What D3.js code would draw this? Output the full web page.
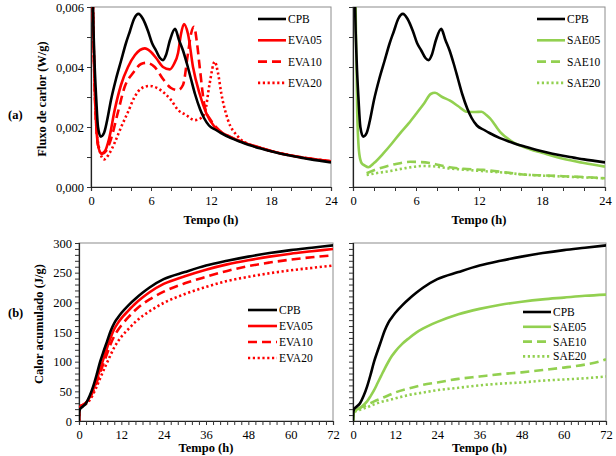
<!DOCTYPE html>
<html><head><meta charset="utf-8">
<script src="https://cdn.jsdelivr.net/npm/d3@7"></script>
<style>body{margin:0;background:#fff}svg{display:block;font-family:"Liberation Serif","Times New Roman",serif}</style>
</head><body><svg id="c" width="616" height="456"></svg>
<script>
// ---- data ----
const fluxTicksX = [0, 6, 12, 18, 24];
const fluxTicksY = [0, 0.002, 0.004, 0.006];
const heatTicksX = [0, 12, 24, 36, 48, 60, 72];
const heatTicksY = [0, 50, 100, 150, 200, 250, 300];
const leftLegend = ["CPB", "EVA05", "EVA10", "EVA20"];
const rightLegend = ["CPB", "SAE05", "SAE10", "SAE20"];

const cpbFlux = [[0.05,0.010],[0.2,0.006],[0.35,0.0042],[0.53,0.0029],[0.7,0.0020],[0.97,0.00168],[1.3,0.0018],[1.6,0.0022],[2.0,0.0029],[2.5,0.0036],[3.0,0.0042],[3.5,0.0048],[3.9,0.0052],[4.3,0.0056],[4.75,0.00577],[5.2,0.0056],[5.7,0.0052],[6.1,0.0048],[6.5,0.00455],[6.9,0.0043],[7.2,0.00423],[7.5,0.0044],[7.9,0.0049],[8.4,0.00527],[8.8,0.0049],[9.2,0.00455],[9.6,0.0041],[10.0,0.0036],[10.4,0.0031],[10.9,0.0026],[11.3,0.0023],[11.8,0.00205],[12.5,0.0019],[13.0,0.0018],[14,0.00163],[15,0.0015],[16,0.00138],[17,0.00128],[18,0.00119],[19,0.00111],[20,0.00104],[21,0.00098],[22,0.00092],[23,0.00087],[24,0.00082]];
const eva05Flux = [[0.05,0.010],[0.2,0.0058],[0.35,0.0035],[0.5,0.0022],[0.7,0.0014],[1.03,0.00112],[1.4,0.0012],[1.8,0.0016],[2.37,0.00257],[3.0,0.0034],[3.7,0.0040],[4.4,0.0044],[5.37,0.00462],[6.0,0.0045],[6.53,0.00429],[7.2,0.0040],[7.87,0.00392],[8.3,0.0041],[8.7,0.00446],[9.0,0.0051],[9.3,0.00543],[9.7,0.0051],[10.2,0.0040],[10.87,0.0031],[11.53,0.00246],[12.37,0.0020],[13,0.00183],[14,0.00165],[15,0.00152],[16,0.0014],[17,0.0013],[18,0.0012],[20,0.00105],[22,0.00094],[24,0.00086]];
const eva10Flux = [[0.05,0.010],[0.2,0.0058],[0.35,0.0035],[0.5,0.0022],[0.7,0.0014],[1.1,0.0011],[1.5,0.0012],[2.0,0.0016],[2.7,0.0025],[3.37,0.00334],[4.2,0.0038],[5.0,0.0041],[5.53,0.00414],[6.37,0.0040],[7.2,0.0036],[8.0,0.0033],[8.7,0.00323],[9.2,0.0034],[9.7,0.00446],[10.0,0.0051],[10.3,0.00534],[10.6,0.0048],[10.87,0.0040],[11.37,0.00268],[12.03,0.0022],[12.8,0.0019],[14,0.00166],[15,0.00152],[16,0.0014],[17,0.0013],[18,0.0012],[20,0.00105],[22,0.00094],[24,0.00086]];
const eva20Flux = [[0.05,0.010],[0.2,0.006],[0.35,0.0036],[0.5,0.0023],[0.8,0.0013],[1.3,0.00092],[1.8,0.0011],[2.4,0.0015],[3.03,0.00201],[3.7,0.0025],[4.37,0.00301],[5.1,0.0033],[5.87,0.00337],[6.6,0.0033],[7.37,0.00312],[8.0,0.0029],[8.7,0.00257],[9.5,0.0024],[10.37,0.00223],[11.0,0.0023],[11.37,0.00246],[11.87,0.00346],[12.37,0.00418],[12.7,0.0038],[13.03,0.00312],[13.7,0.00223],[14.7,0.00168],[16,0.0014],[17,0.0013],[18,0.0012],[20,0.00105],[22,0.00094],[24,0.00086]];
const sae05Flux = [[0.1,0.010],[0.25,0.006],[0.4,0.0025],[0.6,0.0011],[0.83,0.00079],[1.1,0.00072],[1.46,0.00066],[2.0,0.0008],[2.89,0.00112],[3.7,0.00145],[4.48,0.00179],[5.3,0.00212],[6.06,0.00246],[6.8,0.0028],[7.4,0.0031],[7.81,0.00314],[8.5,0.003],[9.24,0.00288],[10.0,0.0027],[10.83,0.00251],[11.6,0.0025],[12.25,0.00251],[12.7,0.0024],[13.05,0.00229],[14,0.00184],[15,0.00155],[16.86,0.00126],[18,0.00114],[20,0.00094],[22,0.0008],[24,0.00068]];
const sae10Flux = [[1.3,0.00046],[2.0,0.00056],[2.9,0.00066],[4.0,0.00076],[5.43,0.00084],[6.5,0.00083],[7.3,0.0008],[8.2,0.00073],[9.2,0.00066],[10.5,0.00061],[12.4,0.00057],[14,0.00051],[16.9,0.0004],[18,0.00039],[20,0.00036],[22,0.00033],[24,0.00029]];
const sae20Flux = [[1.3,0.0004],[2.2,0.00046],[3.5,0.00053],[5.0,0.00063],[6.7,0.0007],[7.6,0.00069],[9.2,0.00062],[10.5,0.00058],[12.4,0.00053],[14,0.00049],[16.9,0.0004],[18,0.00038],[20,0.00035],[22,0.00032],[24,0.00029]];

const cpbHeat = [[0,0],[0.1,15],[0.3,20],[1,24],[2,30],[3,42],[4,58],[5,78],[6,100],[7,118],[8,135],[9,152],[10,165],[11,174],[12,182],[14,195],[16,206],[18,216],[20,225],[24,239],[30,251],[36,262],[42,270],[48,277],[54,283],[60,288],[66,292],[72,296]];
const eva05Heat = [[0,0],[0.1,20],[0.5,25],[1,27],[2,31],[3,40],[4,53],[5,70],[6,88],[7,106],[8,124],[9,141],[10,155],[11,165],[12,173],[14,186],[16,198],[18,208],[20,217],[24,231],[30,244],[36,255],[42,264],[48,271],[54,277],[60,282],[66,286],[72,290]];
const eva10Heat = [[0,0],[0.1,20],[0.5,25],[1,27],[2,31],[3,38],[4,50],[5,65],[6,82],[7,98],[8,114],[9,130],[10,143],[11,153],[12,161],[14,175],[16,187],[18,197],[20,205],[24,218],[30,232],[36,243],[42,253],[48,261],[54,267],[60,272],[66,276],[72,279]];
const eva20Heat = [[0,0],[0.1,18],[0.5,23],[1,25],[2,29],[3,35],[4,45],[5,58],[6,72],[7,86],[8,99],[9,112],[10,124],[11,134],[12,142],[14,155],[16,167],[18,177],[20,185],[24,199],[30,214],[36,226],[42,236],[48,243],[54,249],[60,254],[66,258],[72,262]];
const sae05Heat = [[0,0],[0.3,15],[1,19],[2,22],[3,27],[4,33],[5,42],[6,52],[7,64],[8,76],[9,88],[10,99],[11,109],[12,117],[14,130],[16,140],[18,149],[20,156],[24,167],[30,180],[36,189],[42,196],[48,201],[54,205],[60,208],[66,211],[72,213]];
const sae10Heat = [[0,0],[0.3,16],[1,19],[2,22],[4,27],[6,33],[8,38],[10,43],[12,48],[16,55],[20,61],[24,65],[30,71],[36,75],[42,79],[48,82],[54,86],[60,90],[66,95],[70,100],[72,104]];
const sae20Heat = [[0,0],[0.3,15],[1,17],[2,19],[4,23],[6,28],[8,32],[10,35],[12,38],[16,44],[20,48],[24,52],[30,56],[36,60],[42,63],[48,65],[54,68],[60,70],[66,72],[72,75]];

// ---- styles ----
const BLACK = "#000", RED = "#ff0000", GREEN = "#92d050";
const FONT = "'Liberation Serif', 'Times New Roman', serif";
const styles = { solid: null, dashed: "9,5", dotted: "2.2,2.6" };

const svg = d3.select("#c").attr("font-family", FONT);

function panel(cfg) {
  const x = d3.scaleLinear().domain(cfg.xd).range(cfg.xr);
  const y = d3.scaleLinear().domain(cfg.yd).range(cfg.yr);
  const g = svg.append("g").attr("font-family", FONT);
  const id = "clip" + cfg.id;
  svg.append("defs").append("clipPath").attr("id", id).append("rect")
    .attr("x", cfg.xr[0]).attr("y", cfg.yr[1]).attr("width", cfg.xr[1]-cfg.xr[0]).attr("height", cfg.yr[0]-cfg.yr[1]);
  g.append("rect").attr("x", cfg.xr[0]).attr("y", cfg.yr[1]).attr("width", cfg.xr[1]-cfg.xr[0]).attr("height", cfg.yr[0]-cfg.yr[1])
    .attr("fill", "none").attr("stroke", "#8c8c8c").attr("stroke-width", 1);
  const xAxisMinor = d3.axisBottom(x).tickValues(d3.range(cfg.xd[0], cfg.xd[1]+1e-9, cfg.xMinor)).tickSize(4).tickFormat("");
  const yAxisMinor = d3.axisLeft(y).tickValues(d3.range(cfg.yd[0], cfg.yd[1]+1e-12, cfg.yMinor)).tickSize(4).tickFormat("");
  const gx = g.append("g").attr("transform", `translate(0,${cfg.yr[0]})`).call(xAxisMinor);
  const gy = g.append("g").attr("transform", `translate(${cfg.xr[0]},0)`).call(yAxisMinor);
  [gx, gy].forEach(a => { a.select(".domain").attr("stroke", "#222").attr("stroke-width", 1.2); a.selectAll(".tick line").attr("stroke", "#333"); });
  const xl = d3.axisBottom(x).tickValues(cfg.xTicks).tickSize(0).tickPadding(cfg.xPad).tickFormat(d3.format("d"));
  const lx = g.append("g").attr("transform", `translate(0,${cfg.yr[0]})`).call(xl).attr("font-family", FONT);
  lx.select(".domain").remove();
  lx.selectAll("text").attr("font-family", FONT).attr("font-size", 12.5).attr("fill", "#000");
  if (cfg.yLabels) {
    const yl = d3.axisLeft(y).tickValues(cfg.yTicks).tickSize(0).tickPadding(cfg.yPad).tickFormat(cfg.yFmt);
    const ly = g.append("g").attr("transform", `translate(${cfg.xr[0]},0)`).call(yl).attr("font-family", FONT);
    ly.select(".domain").remove();
    ly.selectAll("text").attr("font-family", FONT).attr("font-size", 12.5).attr("fill", "#000");
  }
  const line = d3.line().x(d => x(d[0])).y(d => y(d[1])).curve(d3.curveMonotoneX);
  const lg = g.append("g").attr("clip-path", `url(#${id})`);
  cfg.series.slice().reverse().forEach(s => {
    lg.append("path").attr("d", line(s.data)).attr("fill", "none").attr("stroke", s.color)
      .attr("stroke-width", 2.6).attr("stroke-dasharray", styles[s.style]).attr("stroke-linejoin", "round");
  });
  g.append("text").attr("x", (cfg.xr[0]+cfg.xr[1])/2).attr("y", cfg.xTitleY).attr("text-anchor", "middle")
    .attr("font-family", FONT).attr("font-weight", "bold").attr("font-size", 12.5).text("Tempo (h)");
  if (cfg.yTitle) {
    g.append("text").attr("transform", `translate(${cfg.yTitleX},${cfg.yTitleYc}) rotate(-90)`).attr("text-anchor", "middle")
      .attr("font-family", FONT).attr("font-weight", "bold").attr("font-size", 12.5).text(cfg.yTitle);
  }
  cfg.series.forEach((s, i) => {
    const yy = cfg.leg.y0 + i*cfg.leg.dy;
    g.append("line").attr("x1", cfg.leg.x0).attr("x2", cfg.leg.x1).attr("y1", yy).attr("y2", yy)
      .attr("stroke", s.color).attr("stroke-width", 2.6).attr("stroke-dasharray", styles[s.style]);
    g.append("text").attr("x", cfg.leg.x1 + 2).attr("y", yy + 4).attr("font-family", FONT).attr("font-size", 11.5).text(cfg.names[i]);
  });
}

const fluxFmt = v => d3.format(".3f")(v).replace(".", ",");

panel({id:1, xd:[0,24], xr:[91,331], yd:[0,0.006], yr:[187,7], xMinor:2, yMinor:0.001,
  xTicks: fluxTicksX, yTicks: fluxTicksY, yLabels:true, yFmt: fluxFmt, xPad:9, yPad:7, xTitleY:224,
  yTitle:"Fluxo de carlor (W/g)", yTitleX:46, yTitleYc:99,
  names:leftLegend, leg:{x0:258, x1:286, y0:19, dy:21.3},
  series:[{data:cpbFlux,color:BLACK,style:"solid"},{data:eva05Flux,color:RED,style:"solid"},{data:eva10Flux,color:RED,style:"dashed"},{data:eva20Flux,color:RED,style:"dotted"}]});
panel({id:2, xd:[0,24], xr:[353,605], yd:[0,0.006], yr:[187,7], xMinor:2, yMinor:0.001,
  xTicks: fluxTicksX, yLabels:false, xPad:9, xTitleY:224,
  names:rightLegend, leg:{x0:537, x1:565, y0:19, dy:21.3},
  series:[{data:cpbFlux,color:BLACK,style:"solid"},{data:sae05Flux,color:GREEN,style:"solid"},{data:sae10Flux,color:GREEN,style:"dashed"},{data:sae20Flux,color:GREEN,style:"dotted"}]});
panel({id:3, xd:[0,72], xr:[79,333], yd:[0,300], yr:[421,243], xMinor:2, yMinor:10,
  xTicks: heatTicksX, yTicks: heatTicksY, yLabels:true, yFmt: d3.format("d"), xPad:9, yPad:7, xTitleY:452,
  yTitle:"Calor acumulado (J/g)", yTitleX:43, yTitleYc:324,
  names:leftLegend, leg:{x0:248, x1:277, y0:310, dy:16},
  series:[{data:cpbHeat,color:BLACK,style:"solid"},{data:eva05Heat,color:RED,style:"solid"},{data:eva10Heat,color:RED,style:"dashed"},{data:eva20Heat,color:RED,style:"dotted"}]});
panel({id:4, xd:[0,72], xr:[353,606], yd:[0,300], yr:[421,243], xMinor:2, yMinor:10,
  xTicks: heatTicksX, yLabels:false, xPad:9, xTitleY:452,
  names:rightLegend, leg:{x0:523, x1:551, y0:312, dy:14.8},
  series:[{data:cpbHeat,color:BLACK,style:"solid"},{data:sae05Heat,color:GREEN,style:"solid"},{data:sae10Heat,color:GREEN,style:"dashed"},{data:sae20Heat,color:GREEN,style:"dotted"}]});

svg.append("text").attr("x", 8).attr("y", 119).attr("font-family", FONT).attr("font-weight", "bold").attr("font-size", 12.5).text("(a)");
svg.append("text").attr("x", 8).attr("y", 317).attr("font-family", FONT).attr("font-weight", "bold").attr("font-size", 12.5).text("(b)");
</script></body></html>
